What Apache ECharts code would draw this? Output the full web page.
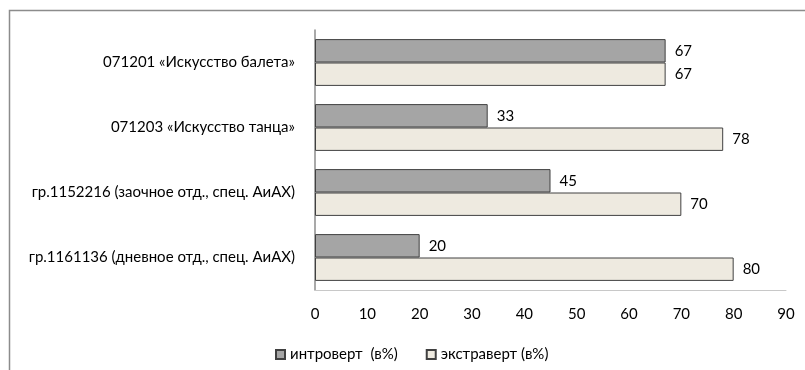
<!DOCTYPE html>
<html>
<head>
<meta charset="utf-8">
<script src="https://cdn.jsdelivr.net/npm/echarts@6/dist/echarts.min.js"></script>
<style>
  html, body { margin: 0; padding: 0; background: #fff; }
  #chart { width: 805px; height: 370px; }
</style>
</head>
<body>
<div id="chart"></div>
<script>
// Groups / specialities shown on the vertical axis (top to bottom)
const categories = [
  '071201 «Искусство балета»',
  '071203 «Искусство танца»',
  'гр.1152216 (заочное отд., спец. АиАХ)',
  'гр.1161136 (дневное отд., спец. АиАХ)'
];
const seriesNames = ['интроверт  (в%)', 'экстраверт (в%)'];
const introvert = [67, 33, 45, 20];
const extravert = [67, 78, 70, 80];
const xTicks = [0, 10, 20, 30, 40, 50, 60, 70, 80, 90];

const FONT = 'Lato, "Open Sans", sans-serif';
const FS = 15;

const chart = echarts.init(document.getElementById('chart'), null, { renderer: 'canvas' });

const labelStyle = {
  show: true,
  position: 'right',
  distance: 9,
  color: '#000',
  fontFamily: FONT,
  fontSize: FS
};

chart.setOption({
  animation: false,
  backgroundColor: '#fff',
  graphic: [{
    type: 'rect',
    shape: { x: 9.5, y: 10.5, width: 900, height: 500 },
    style: { fill: 'none', stroke: '#8c8c8c', lineWidth: 1.5 },
    silent: true
  }],
  grid: { left: 315, right: 19, top: 30, bottom: 80, containLabel: false },
  legend: {
    data: seriesNames,
    left: 275,
    top: 347,
    padding: 0,
    itemWidth: 9,
    itemHeight: 9,
    itemGap: 28,
    icon: 'rect',
    textStyle: { fontFamily: FONT, fontSize: FS, color: '#000' }
  },
  xAxis: {
    type: 'value',
    min: xTicks[0],
    max: xTicks[xTicks.length - 1],
    interval: 10,
    axisLine: { show: true, lineStyle: { color: '#c8c8c8', width: 1 } },
    axisTick: { show: false },
    splitLine: { show: false },
    axisLabel: { fontFamily: FONT, fontSize: FS, color: '#000', margin: 17 }
  },
  yAxis: {
    type: 'category',
    data: categories,
    inverse: true,
    axisLine: { show: true, lineStyle: { color: '#8c8c8c', width: 1.5 } },
    axisTick: { show: false },
    axisLabel: { fontFamily: FONT, fontSize: FS, color: '#000', margin: 20 }
  },
  series: [
    {
      name: seriesNames[0],
      type: 'bar',
      data: introvert,
      barGap: '0%',
      barCategoryGap: '28%',
      itemStyle: { color: '#a5a5a5', borderColor: '#404040', borderWidth: 1 },
      label: labelStyle
    },
    {
      name: seriesNames[1],
      type: 'bar',
      data: extravert,
      barGap: '0%',
      barCategoryGap: '28%',
      itemStyle: { color: '#eeeae0', borderColor: '#404040', borderWidth: 1 },
      label: labelStyle
    }
  ]
});
</script>
</body>
</html>
